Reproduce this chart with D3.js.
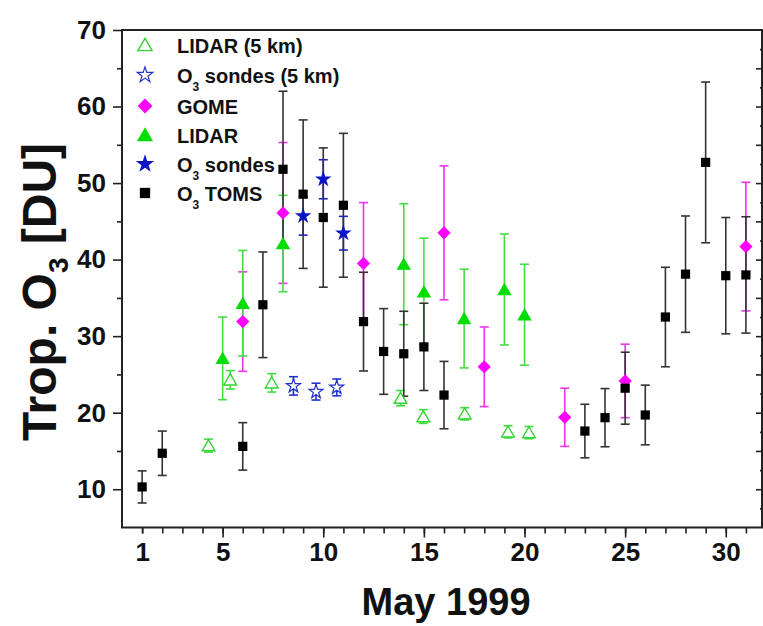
<!DOCTYPE html>
<html><head><meta charset="utf-8">
<script src="https://cdn.jsdelivr.net/npm/d3@7"></script>
<style>
html,body{margin:0;padding:0;background:#fff;}
svg{display:block;font-family:"Liberation Sans",Arial,sans-serif;}
</style></head>
<body>
<svg id="chart" width="763" height="626"></svg>
<script>
// ---- data ----
const lidar5Days = [4.3, 5.38, 7.44, 13.84, 14.97, 17.03, 19.18, 20.22];
const lidar5Vals = [15.7, 24.3, 23.9, 21.9, 19.5, 19.85, 17.5, 17.4];
const lidar5Err  = [0.85, 1.2, 1.2, 1.0, 0.9, 0.8, 0.8, 0.8];

const sonde5Days = [8.52, 9.64, 10.67];
const sonde5Vals = [23.5, 22.75, 23.3];
const sonde5Err  = [1.2, 1.1, 1.1];

const gomeDays = [6, 8, 12, 16, 18, 22, 25, 31];
const gomeVals = [31.9, 46.1, 39.5, 43.5, 26.0, 19.4, 24.15, 41.7];
const gomeErr  = [6.5, 9.2, 7.95, 8.75, 5.2, 3.8, 4.8, 8.4];

const lidarDays = [5, 6, 8, 14, 15, 17, 19, 20];
const lidarVals = [27.1, 34.3, 42.1, 39.4, 35.8, 32.3, 36.1, 32.8];
const lidarErr  = [5.4, 6.9, 6.3, 7.9, 7.0, 6.45, 7.25, 6.6];

const sondeDays = [9, 10, 11];
const sondeVals = [45.7, 50.5, 43.45];
const sondeErr  = [2.5, 2.55, 2.2];

const tomsDays = [1, 2, 6, 7, 8, 9, 10, 11, 12, 13, 14, 15, 16, 23, 24, 25, 26, 27, 28, 29, 30, 31];
const tomsVals = [10.3, 14.7, 15.6, 34.1, 51.8, 48.55, 45.5, 47.1, 31.9, 28.0, 27.7, 28.6, 22.3, 17.6, 19.35, 23.2, 19.7, 32.5, 38.1, 52.7, 37.9, 38.0];
const tomsErr  = [2.1, 2.9, 3.1, 6.9, 10.2, 9.7, 9.1, 9.4, 6.45, 5.6, 5.55, 5.7, 4.4, 3.5, 3.8, 4.7, 3.9, 6.5, 7.6, 10.5, 7.6, 7.6];

const xTickLabels = [1, 5, 10, 15, 20, 25, 30];
const yTickLabels = [10, 20, 30, 40, 50, 60, 70];
const xTitle = "May 1999";

// ---- layout ----
const svg = d3.select("#chart");
const L = 122, R = 762, T = 30, B = 527.5;
const x = d3.scaleLinear().domain([0, 31.8]).range([L, R]);
const y = d3.scaleLinear().domain([5, 70]).range([B, T]);

const axisColor = "#222";

// frame
svg.append("rect").attr("x", L).attr("y", T).attr("width", R - L).attr("height", B - T)
  .attr("fill", "none").attr("stroke", axisColor).attr("stroke-width", 2);

// bottom axis
const xMinor = d3.range(1, 32);
const gx = svg.append("g").attr("transform", `translate(0,${B})`);
gx.call(d3.axisBottom(x).tickValues(xMinor).tickSize(6).tickFormat(""));
gx.call(g => g.select(".domain").remove());
const gx2 = svg.append("g").attr("transform", `translate(0,${B})`);
gx2.call(d3.axisBottom(x).tickValues(xTickLabels).tickSize(10).tickPadding(5).tickFormat(d3.format("d")));
gx2.select(".domain").remove();
gx2.selectAll(".tick line").filter(d => d === 1).attr("y2", 6);
gx2.selectAll("text").attr("font-size", 26).attr("font-weight", "bold").attr("fill", "#111")
  .attr("font-family", "Liberation Sans, Arial, sans-serif");

// left axis
const gy = svg.append("g").attr("transform", `translate(${L},0)`);
gy.call(d3.axisLeft(y).tickValues(d3.range(15, 70, 10)).tickSize(5).tickFormat(""));
gy.select(".domain").remove();
const gy2 = svg.append("g").attr("transform", `translate(${L},0)`);
gy2.call(d3.axisLeft(y).tickValues(yTickLabels).tickSize(9).tickPadding(7).tickFormat(d3.format("d")));
gy2.select(".domain").remove();
gy2.selectAll("text").attr("font-size", 26).attr("font-weight", "bold").attr("fill", "#111")
  .attr("font-family", "Liberation Sans, Arial, sans-serif");

// right axis (inner ticks)
const gr = svg.append("g").attr("transform", `translate(${R},0)`);
gr.call(d3.axisLeft(y).tickValues(d3.range(10, 70, 5)).tickSize(0).tickFormat(""));
gr.select(".domain").remove();
gr.selectAll(".tick line").attr("x2", -6);
const gr2 = svg.append("g").attr("transform", `translate(${R},0)`);
gr2.call(d3.axisLeft(y).tickValues(d3.range(7.5, 70, 5)).tickSize(0).tickFormat(""));
gr2.select(".domain").remove();
gr2.selectAll(".tick line").attr("x2", -2);
svg.selectAll("g line").attr("stroke", axisColor).attr("stroke-width", 1.6);

// titles
svg.append("text").attr("x", x(16.1)).attr("y", 615).attr("text-anchor", "middle")
  .attr("font-size", 38).attr("font-weight", "bold").attr("fill", "#111").text(xTitle);

const yt = svg.append("text").attr("transform", "translate(56,292) rotate(-90)")
  .attr("text-anchor", "middle").attr("font-size", 48).attr("font-weight", "bold").attr("fill", "#111");
yt.append("tspan").text("Trop. O");
yt.append("tspan").attr("font-size", 28).attr("dy", 12).text("3");
yt.append("tspan").attr("dy", -12).text(" [DU]");

// ---- series ----
function zip(days, vals, errs) { return days.map((d, i) => ({ d, v: vals[i], e: errs[i] })); }
const series = [
  { name: "lidar5", data: zip(lidar5Days, lidar5Vals, lidar5Err), bar: "#3fdc3f", fill: "#fff", stroke: "#2fd62f", shape: d3.symbolTriangle, size: 70, sw: 1.4, dy: 1.5, rot: 0 },
  { name: "sonde5", data: zip(sonde5Days, sonde5Vals, sonde5Err), bar: "#2233cc", fill: "#fff", stroke: "#2233cc", shape: d3.symbolStar, size: 60, sw: 1.2, dy: 0, rot: 0 },
  { name: "gome", data: zip(gomeDays, gomeVals, gomeErr), bar: "#ee33ee", fill: "#ff00ff", stroke: "none", shape: d3.symbolSquare, size: 88, sw: 0, dy: 0, rot: 45 },
  { name: "lidar", data: zip(lidarDays, lidarVals, lidarErr), bar: "#44dd44", fill: "#00dd00", stroke: "none", shape: d3.symbolTriangle, size: 90, sw: 0, dy: 1.5, rot: 0 },
  { name: "sonde", data: zip(sondeDays, sondeVals, sondeErr), bar: "#1a22cc", fill: "#0a14c8", stroke: "none", shape: d3.symbolStar, size: 85, sw: 0, dy: 0, rot: 0 },
  { name: "toms", data: zip(tomsDays, tomsVals, tomsErr), bar: "#333", fill: "#000", stroke: "none", shape: d3.symbolSquare, size: 85, sw: 0, dy: 0, rot: 0 }
];

const cap = 4.5;
series.forEach(s => {
  const g = svg.append("g").attr("class", "bars-" + s.name).attr("stroke", s.bar).attr("stroke-width", 1.6);
  const eb = g.selectAll("g").data(s.data).join("g");
  eb.append("line").attr("x1", p => x(p.d)).attr("x2", p => x(p.d))
    .attr("y1", p => y(p.v + p.e)).attr("y2", p => y(p.v - p.e));
  eb.append("line").attr("x1", p => x(p.d) - cap).attr("x2", p => x(p.d) + cap)
    .attr("y1", p => y(p.v + p.e)).attr("y2", p => y(p.v + p.e));
  eb.append("line").attr("x1", p => x(p.d) - cap).attr("x2", p => x(p.d) + cap)
    .attr("y1", p => y(p.v - p.e)).attr("y2", p => y(p.v - p.e));
});
series.forEach(s => {
  svg.append("g").selectAll("path").data(s.data).join("path")
    .attr("transform", p => `translate(${x(p.d)},${y(p.v) + s.dy}) rotate(${s.rot})`)
    .attr("d", d3.symbol().type(s.shape).size(s.size))
    .attr("fill", s.fill).attr("stroke", s.stroke).attr("stroke-width", s.sw);
});

// ---- legend ----
const legendItems = [
  { s: series[0], label: ["LIDAR (5 km)"] },
  { s: series[1], label: ["O", "3", " sondes (5 km)"] },
  { s: series[2], label: ["GOME"] },
  { s: series[3], label: ["LIDAR"] },
  { s: series[4], label: ["O", "3", " sondes"] },
  { s: series[5], label: ["O", "3", " TOMS"] }
];
const legY = [45, 75, 106, 135, 164, 193];
legendItems.forEach((it, i) => {
  const s = it.s;
  svg.append("path").attr("transform", `translate(145,${legY[i] + s.dy}) rotate(${s.rot})`)
    .attr("d", d3.symbol().type(s.shape).size(s.size * 1.25))
    .attr("fill", s.fill).attr("stroke", s.stroke).attr("stroke-width", s.sw);
  const t = svg.append("text").attr("x", 177).attr("y", legY[i] + 7.5)
    .attr("font-size", 20).attr("font-weight", "bold").attr("fill", "#111");
  if (it.label.length === 1) t.text(it.label[0]);
  else {
    t.append("tspan").text(it.label[0]);
    t.append("tspan").attr("font-size", 12).attr("dy", 8).text(it.label[1]);
    t.append("tspan").attr("dy", -8).text(it.label[2]);
  }
});
</script>
</body></html>
